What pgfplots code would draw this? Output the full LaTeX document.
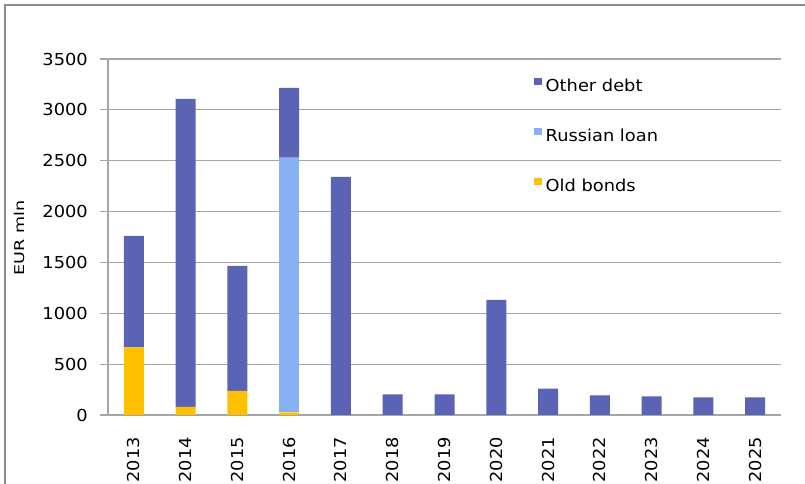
\documentclass[border=0pt]{standalone}
\usepackage{fontspec}
\setmainfont{DejaVu Sans}[FakeStretch=1.08]
\newfontfamily\ylabfont{DejaVu Sans}[FakeStretch=1.3]
\usepackage{pgfplots}
\pgfplotsset{compat=1.18}
\definecolor{otherdebt}{HTML}{5B63B5}
\definecolor{rusloan}{HTML}{87B1F3}
\definecolor{oldbonds}{HTML}{FFC000}
\definecolor{gridgray}{HTML}{A6A6A6}
\definecolor{framegray}{HTML}{8C8C8C}
\begin{document}
\begin{tikzpicture}
\path[use as bounding box] (0,0) rectangle (805bp,484bp);
\draw[framegray, line width=2bp] (5bp,0) -- (5bp,479bp) -- (805bp,479bp);
\begin{axis}[
  at={(108bp,69bp)}, anchor=south west,
  scale only axis, width=673bp, height=356bp,
  ybar stacked, bar width=20bp,
  xmin=-0.5, xmax=12.5, ymin=0, ymax=3500,
  xtick={0,...,12},
  xticklabels={2013,2014,2015,2016,2017,2018,2019,2020,2021,2022,2023,2024,2025},
  ytick={0,500,...,3500},
  axis x line*=bottom, axis y line*=left,
  axis line style={gridgray, line width=1.2bp},
  ymajorgrids, grid style={gridgray, line width=1.2bp},
  major x tick style={draw=none},
  major y tick style={gridgray, line width=1.2bp},
  tick align=outside, major tick length=8bp,
  /pgf/number format/assume math mode=true,
  /pgf/number format/set thousands separator={},
  yticklabel style={font=\fontsize{16.5bp}{20bp}\selectfont, inner xsep=12bp},
  xticklabel style={font=\fontsize{16.5bp}{20bp}\selectfont, rotate=90, anchor=east, inner xsep=14bp, inner ysep=0pt},
  ylabel={EUR mln},
  every axis y label/.style={at={(axis description cs:-0.131,0.497)}, rotate=90, anchor=center,
    font=\ylabfont\fontsize{13.5bp}{16bp}\selectfont},
  reverse legend,
  legend style={draw=none, fill=none, at={(axis description cs:0.633,0.95)}, anchor=north west,
    font=\fontsize{16.5bp}{20bp}\selectfont, row sep=32bp, inner sep=0pt,
    nodes={inner sep=2bp, anchor=west}},
  legend cell align=left,
  legend image code/.code={\fill[#1] (0bp,1bp) rectangle (7.5bp,8.5bp); \path (9.5bp,0);},
]
\addplot[fill=oldbonds, draw=none] coordinates {(0,665) (1,79) (2,236) (3,26) (4,0) (5,0) (6,0) (7,0) (8,0) (9,0) (10,0) (11,0) (12,0)};
\addplot[fill=rusloan, draw=none] coordinates {(0,0) (1,0) (2,0) (3,2504) (4,0) (5,0) (6,0) (7,0) (8,0) (9,0) (10,0) (11,0) (12,0)};
\addplot[fill=otherdebt, draw=none] coordinates {(0,1095) (1,3028) (2,1229) (3,685) (4,2340) (5,203) (6,203) (7,1131) (8,259) (9,193) (10,184) (11,174) (12,174)};
\legend{Old bonds, Russian loan, Other debt}
\end{axis}
\end{tikzpicture}
\end{document}
